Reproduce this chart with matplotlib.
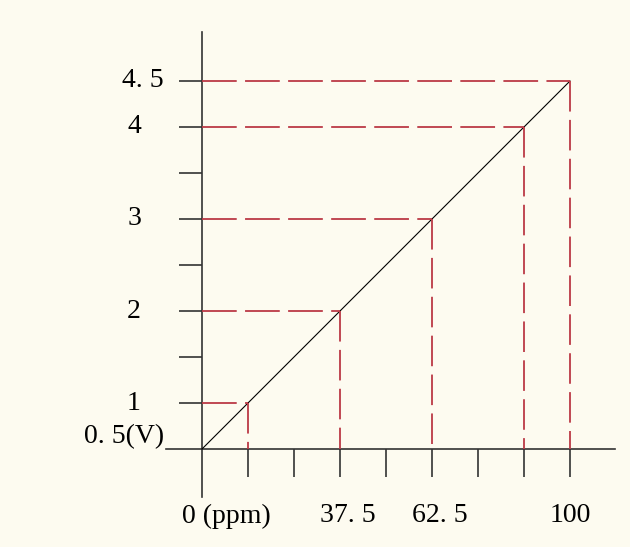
import matplotlib
matplotlib.use("Agg")
import matplotlib.pyplot as plt
from matplotlib.transforms import offset_copy

plt.rcParams['font.family'] = ['Liberation Serif', 'DejaVu Serif']
plt.rcParams['lines.scale_dashes'] = False

# sensor output: 0-100 ppm -> 0.5-4.5 V
line_ppm = [0, 100]
line_volt = [0.5, 4.5]

# marked points with guide lines
mark_ppm = [12.5, 37.5, 62.5, 87.5, 100]
mark_volt = [1, 2, 3, 4, 4.5]

x_ticks = [12.5, 25, 37.5, 50, 62.5, 75, 87.5, 100]
y_ticks = [1, 1.5, 2, 2.5, 3, 3.5, 4, 4.5]

x_label_pos = [0, 37.5, 62.5, 100]
x_label_txt = ["0 (ppm)", "37. 5", "62. 5", "100"]
y_label_pos = [0.5, 1, 2, 3, 4, 4.5]
y_label_txt = ["0. 5(V)", "1", "2", "3", "4", "4. 5"]

bg = "#fdfbf0"
red = "#bb3a46"
ink = "#333333"

fig = plt.figure(figsize=(6.3, 5.47), dpi=100, facecolor=bg)
ax = fig.add_axes([0, 0, 1, 1], facecolor=bg)

# pixel mapping: origin at (202, 449), 3.68 px per ppm, 92 px per volt
ax.set_xlim(-202 / 3.68, 428 / 3.68)
ax.set_ylim(0.5 - 98 / 92, 0.5 + 449 / 92)

ax.plot(line_ppm, line_volt, color="black", lw=0.8)

for p, v in zip(mark_ppm, mark_volt):
    ax.plot([0, p], [v, v], color=red, lw=1.3, dashes=(25, 6))
    ax.plot([p, p], [v, 0.5], color=red, lw=1.3, dashes=(22, 6))

for side in ["top", "right"]:
    ax.spines[side].set_visible(False)
ax.spines["left"].set_position(("data", 0))
ax.spines["bottom"].set_position(("data", 0.5))
ax.spines["left"].set_bounds(-0.02, 5.03)
ax.spines["bottom"].set_bounds(-9.8, 112.2)
for s in ["left", "bottom"]:
    ax.spines[s].set_color(ink)
    ax.spines[s].set_linewidth(1.2)
    ax.spines[s].set_zorder(1)

ax.set_xticks(x_ticks)
ax.set_yticks(y_ticks)
ax.set_xticklabels([])
ax.set_yticklabels([])
ax.tick_params(axis="x", direction="out", length=20, width=1.2, color=ink)
ax.tick_params(axis="y", direction="out", length=16.5, width=1.2, color=ink)

for p, t in zip(x_label_pos, x_label_txt):
    tr = offset_copy(ax.transData, fig=fig, x=-20, y=-67, units="dots")
    ax.text(p, 0.5, t, transform=tr, ha="left", va="center", fontsize=20, color="black")

for v, t in zip(y_label_pos, y_label_txt):
    if "." in t:
        tr = offset_copy(ax.transData, fig=fig, x=-38, y=0, units="dots")
        ha = "right"
    else:
        tr = offset_copy(ax.transData, fig=fig, x=-68, y=0, units="dots")
        ha = "center"
    dy = 0.13 if v == 0.5 else 0.0
    ax.text(0, v + dy, t, transform=tr, ha=ha, va="center", fontsize=20, color="black")

fig.savefig("out.png", dpi=100, facecolor=bg)
